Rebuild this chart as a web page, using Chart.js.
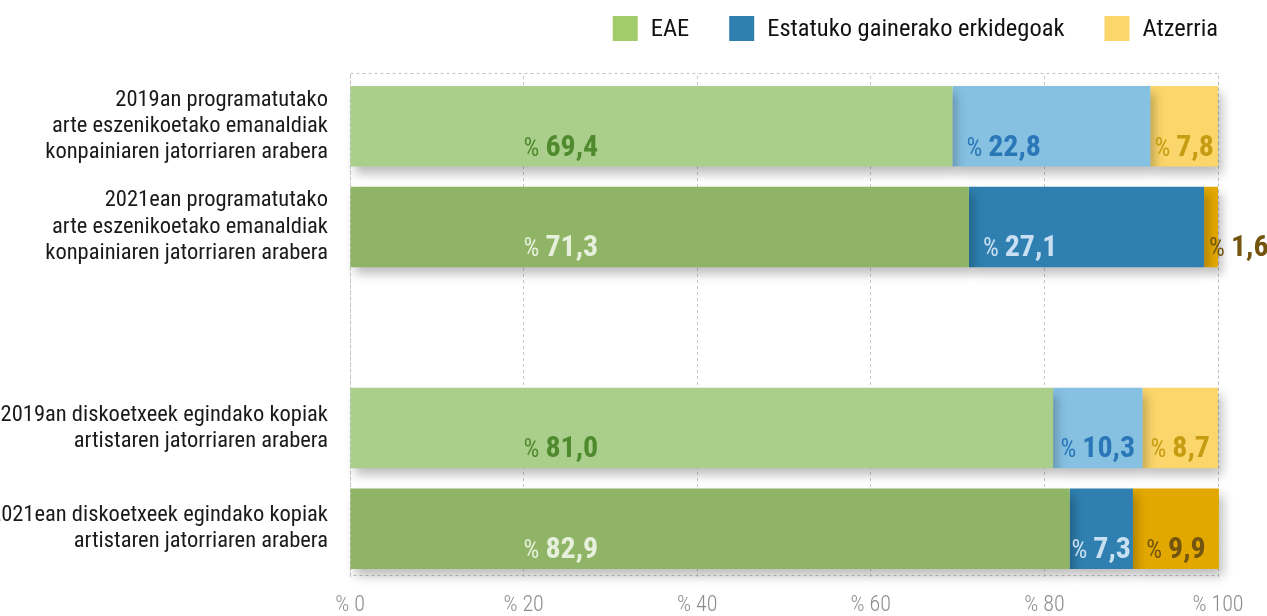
<!DOCTYPE html>
<html>
<head>
<meta charset="utf-8">
<script src="https://cdn.jsdelivr.net/npm/chart.js@4"></script>
<style>
  html, body { margin: 0; padding: 0; background: #fff; }
  #wrap { width: 1267px; height: 616px; position: relative; }
</style>
</head>
<body>
<div id="wrap"><canvas id="chart"></canvas></div>
<script>
// ==========================
// Data
// ==========================
const categories = [
    ['2019an programatutako', 'arte eszenikoetako emanaldiak', 'konpainiaren jatorriaren arabera'],
    ['2021ean programatutako', 'arte eszenikoetako emanaldiak', 'konpainiaren jatorriaren arabera'],
    '',
    ['2019an diskoetxeek egindako kopiak', 'artistaren jatorriaren arabera'],
    ['2021ean diskoetxeek egindako kopiak', 'artistaren jatorriaren arabera']
];
const seriesNames = ['EAE', 'Estatuko gainerako erkidegoak', 'Atzerria'];
const eaeValues = [69.4, 71.3, null, 81.0, 82.9];
const estatukoValues = [22.8, 27.1, null, 10.3, 7.3];
const atzerriaValues = [7.8, 1.6, null, 8.7, 9.9];
const xTickValues = [0, 20, 40, 60, 80, 100];

// ==========================
// Colours (2019 rows light, 2021 rows dark)
// ==========================
const FONT = "'Roboto Condensed', 'Roboto', sans-serif";
const legendColors = ['#a2cb6a', '#2f80b0', '#fbd66b'];
const barColors = [
    ['#aacf8c', '#8fb466', null, '#aacf8c', '#8fb466'],
    ['#86c1e2', '#2f80b0', null, '#86c1e2', '#2f80b0'],
    ['#fbd66b', '#e3a800', null, '#fbd66b', '#e3a800']
];
const labelColors = [
    ['#4f8a2e', '#e6f0dc', null, '#4f8a2e', '#e6f0dc'],
    ['#2a77b8', '#c9e0f2', null, '#2a77b8', '#c9e0f2'],
    ['#c69c12', '#735510', null, '#c69c12', '#735510']
];

// ==========================
// Plugins
// ==========================

// soft drop shadow under the bars
const barShadow = {
    id: 'barShadow',
    beforeDatasetDraw(chart) {
        const ctx = chart.ctx;
        ctx.save();
        ctx.shadowColor = 'rgba(0,0,0,0.26)';
        ctx.shadowBlur = 10;
        ctx.shadowOffsetX = 4;
        ctx.shadowOffsetY = 7;
    },
    afterDatasetDraw(chart) {
        chart.ctx.restore();
    }
};

// dashed frame round the plot area (sits a few px inside top/bottom)
const plotFrame = {
    id: 'plotFrame',
    beforeDatasetsDraw(chart) {
        const {ctx, chartArea: a} = chart;
        const top = Math.round(a.top) - 3;
        const bottom = Math.round(a.bottom) - 4;
        ctx.save();
        ctx.strokeStyle = '#c2c2c2';
        ctx.lineWidth = 1;
        ctx.setLineDash([3, 3]);
        ctx.strokeRect(Math.round(a.left) + 0.5, top + 0.5,
            Math.round(a.right - a.left), bottom - top);
        ctx.restore();
    }
};

// "% 69,4" style labels inside the segments
const valueLabels = {
    id: 'valueLabels',
    afterDatasetsDraw(chart) {
        const ctx = chart.ctx;
        const xScale = chart.scales.x;
        const pctFont = `400 25px ${FONT}`;
        const numFont = `700 30px ${FONT}`;
        const gap = 6;

        chart.data.datasets.forEach((ds, di) => {
            const meta = chart.getDatasetMeta(di);
            meta.data.forEach((bar, i) => {
                const v = ds.data[i];
                if (v == null) return;
                const p = bar.getProps(['x', 'base', 'y', 'height'], true);
                const left = Math.min(p.x, p.base);
                const w = Math.abs(p.x - p.base);
                const num = v.toFixed(1).replace('.', ',');

                ctx.save();
                ctx.font = pctFont;
                const pw = ctx.measureText('%').width;
                ctx.font = numFont;
                const nw = ctx.measureText(num).width;
                const tw = pw + gap + nw;

                let tx;
                if (di === 0) tx = xScale.getPixelForValue(20);
                else if (w < tw) tx = left + 5;
                else if (w > 120) tx = left + 14;
                else tx = left + (w - tw) / 2;
                const ty = p.y + p.height / 2 - 11;

                ctx.fillStyle = labelColors[di][i];
                ctx.textBaseline = 'alphabetic';
                ctx.textAlign = 'left';
                ctx.font = pctFont;
                ctx.fillText('%', tx, ty);
                ctx.font = numFont;
                ctx.fillText(num, tx + pw + gap, ty);
                ctx.restore();
            });
        });
    }
};

// legend row, right aligned above the plot
const topLegend = {
    id: 'topLegend',
    afterDraw(chart) {
        const ctx = chart.ctx;
        const box = 25, textGap = 13, itemGap = 40;
        const right = chart.chartArea.right;
        const top = 16;
        ctx.save();
        ctx.font = `400 24.5px ${FONT}`;
        const widths = seriesNames.map(n => ctx.measureText(n).width);
        const total = widths.reduce((s, w) => s + box + textGap + w, 0) + itemGap * (seriesNames.length - 1);
        let x = right - total;
        seriesNames.forEach((name, k) => {
            ctx.fillStyle = legendColors[k];
            ctx.fillRect(x, top, box, box);
            ctx.fillStyle = '#111';
            ctx.textBaseline = 'middle';
            ctx.fillText(name, x + box + textGap, top + box / 2 + 1);
            x += box + textGap + widths[k] + itemGap;
        });
        ctx.restore();
    }
};

// ==========================
// Chart
// ==========================
const datasets = [eaeValues, estatukoValues, atzerriaValues].map((values, k) => ({
    label: seriesNames[k],
    data: values,
    backgroundColor: barColors[k],
    borderWidth: 0,
    barPercentage: 0.8,
    categoryPercentage: 1,
    clip: false
}));

new Chart(document.getElementById('chart'), {
    type: 'bar',
    data: { labels: categories, datasets },
    options: {
        indexAxis: 'y',
        responsive: true,
        maintainAspectRatio: false,
        animation: false,
        layout: { padding: { top: 76, right: 49, bottom: 0, left: 0 } },
        plugins: {
            legend: { display: false },
            tooltip: { enabled: false }
        },
        scales: {
            x: {
                stacked: true,
                min: 0,
                max: 100,
                afterBuildTicks(scale) {
                    scale.ticks = xTickValues.map(v => ({ value: v }));
                },
                // tick padding counts twice in the axis height, so pin it
                afterFit(scale) { scale.height = 37; },
                ticks: {
                    callback: v => '% ' + v,
                    color: '#8c8c8c',
                    padding: 13,
                    maxRotation: 0,
                    font: { family: FONT, size: 22, weight: 300 }
                },
                grid: { color: '#c8c8c8', lineWidth: 1, drawTicks: false },
                border: { display: false, dash: [3, 3] }
            },
            y: {
                stacked: true,
                afterFit(scale) {
                    scale.width = 350;
                    // multi-line labels must not shrink the plot area
                    scale.paddingTop = 0;
                    scale.paddingBottom = 0;
                },
                ticks: {
                    color: '#1a1a1a',
                    padding: 14,
                    font: { family: FONT, size: 22.5, lineHeight: 1.16 }
                },
                grid: { display: false },
                border: { display: false }
            }
        }
    },
    plugins: [plotFrame, barShadow, valueLabels, topLegend]
});
</script>
</body>
</html>
